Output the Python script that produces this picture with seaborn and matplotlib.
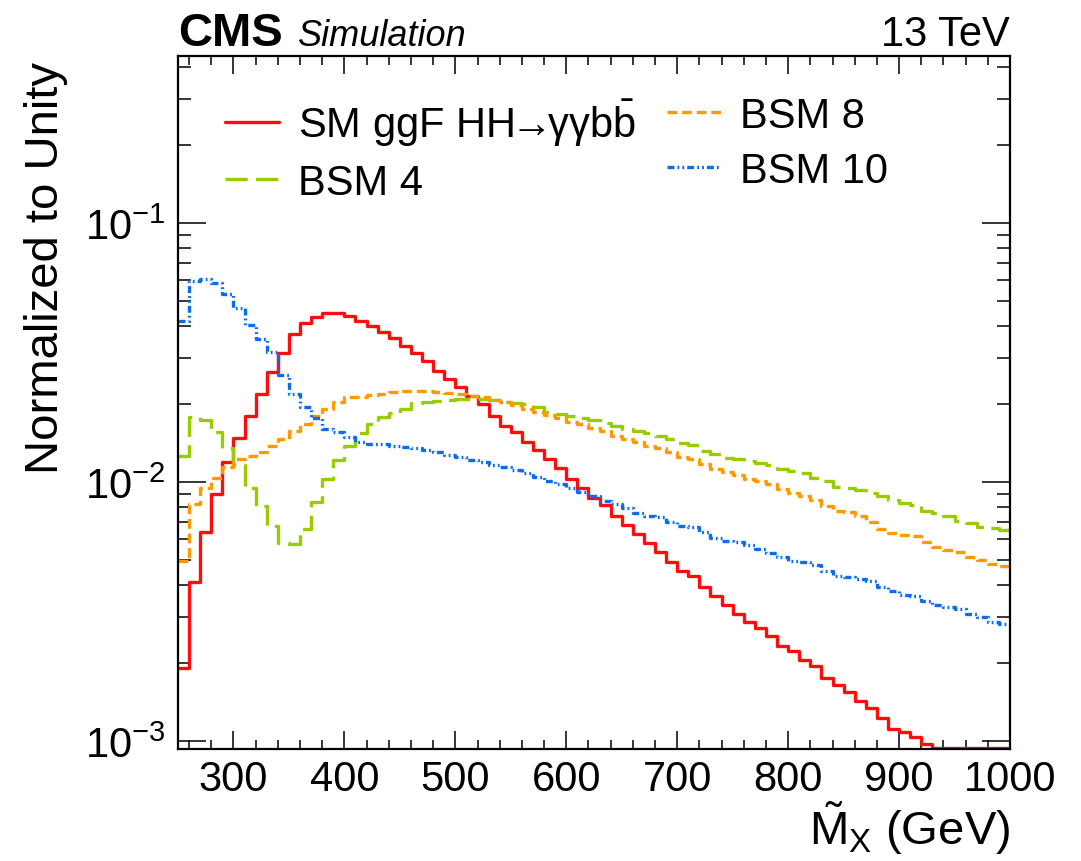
import numpy as np
import pandas as pd
import matplotlib
matplotlib.use("Agg")
import matplotlib.pyplot as plt
import seaborn as sns
from matplotlib.ticker import MultipleLocator, LogLocator, NullFormatter, LogFormatterSciNotation

# ---------------- data (normalized bin contents, 10 GeV bins 250-1000) ----------------
bin_low, bin_high, bin_width = 250, 1000, 10

sm_ggf = [1.91e-3, 4.12e-3, 6.42e-3, 8.99e-3, 1.19e-2, 1.48e-2, 1.80e-2, 2.19e-2, 2.65e-2, 3.15e-2,
          3.72e-2, 4.11e-2, 4.35e-2, 4.48e-2, 4.48e-2, 4.36e-2, 4.20e-2, 4.02e-2, 3.80e-2, 3.60e-2,
          3.36e-2, 3.15e-2, 2.92e-2, 2.69e-2, 2.51e-2, 2.33e-2, 2.15e-2, 2.00e-2, 1.80e-2, 1.65e-2,
          1.56e-2, 1.43e-2, 1.33e-2, 1.23e-2, 1.13e-2, 1.03e-2, 9.5e-3, 8.7e-3, 8.15e-3, 7.41e-3,
          6.82e-3, 6.30e-3, 5.81e-3, 5.35e-3, 4.92e-3, 4.55e-3, 4.32e-3, 3.94e-3, 3.62e-3, 3.35e-3,
          3.09e-3, 2.87e-3, 2.72e-3, 2.55e-3, 2.33e-3, 2.22e-3, 2.06e-3, 1.94e-3, 1.75e-3, 1.64e-3,
          1.54e-3, 1.43e-3, 1.34e-3, 1.23e-3, 1.11e-3, 1.08e-3, 1.04e-3, 9.75e-4, 8.9e-4, 8.4e-4,
          7.9e-4, 7.4e-4, 7.0e-4, 6.6e-4, 6.2e-4]

bsm4 = [1.26e-2, 1.78e-2, 1.74e-2, 1.56e-2, 1.35e-2, 1.16e-2, 9.45e-3, 8.1e-3, 6.78e-3, 5.8e-3,
        5.78e-3, 6.59e-3, 8.35e-3, 1.03e-2, 1.22e-2, 1.38e-2, 1.55e-2, 1.68e-2, 1.79e-2, 1.85e-2,
        1.92e-2, 2.01e-2, 2.04e-2, 2.06e-2, 2.08e-2, 2.10e-2, 2.10e-2, 2.09e-2, 2.07e-2, 2.04e-2,
        2.01e-2, 2.00e-2, 1.94e-2, 1.86e-2, 1.83e-2, 1.80e-2, 1.77e-2, 1.73e-2, 1.69e-2, 1.65e-2,
        1.60e-2, 1.57e-2, 1.54e-2, 1.51e-2, 1.46e-2, 1.42e-2, 1.39e-2, 1.32e-2, 1.28e-2, 1.24e-2,
        1.23e-2, 1.20e-2, 1.18e-2, 1.16e-2, 1.12e-2, 1.10e-2, 1.08e-2, 1.04e-2, 1.01e-2, 9.6e-3,
        9.5e-3, 9.3e-3, 9.06e-3, 8.8e-3, 8.5e-3, 8.3e-3, 8.15e-3, 7.75e-3, 7.6e-3, 7.4e-3,
        7.1e-3, 6.95e-3, 6.73e-3, 6.63e-3, 6.53e-3]

bsm8 = [4.97e-3, 8.2e-3, 9.5e-3, 1.04e-2, 1.14e-2, 1.23e-2, 1.26e-2, 1.31e-2, 1.38e-2, 1.47e-2,
        1.58e-2, 1.67e-2, 1.80e-2, 1.92e-2, 2.03e-2, 2.12e-2, 2.12e-2, 2.17e-2, 2.18e-2, 2.22e-2,
        2.25e-2, 2.25e-2, 2.24e-2, 2.22e-2, 2.20e-2, 2.18e-2, 2.15e-2, 2.12e-2, 2.08e-2, 2.03e-2,
        1.98e-2, 1.92e-2, 1.87e-2, 1.82e-2, 1.76e-2, 1.71e-2, 1.68e-2, 1.61e-2, 1.58e-2, 1.51e-2,
        1.47e-2, 1.43e-2, 1.38e-2, 1.35e-2, 1.30e-2, 1.25e-2, 1.23e-2, 1.17e-2, 1.12e-2, 1.09e-2,
        1.06e-2, 1.03e-2, 1.01e-2, 9.8e-3, 9.4e-3, 9.1e-3, 8.85e-3, 8.5e-3, 8.06e-3, 7.75e-3,
        7.63e-3, 7.41e-3, 6.99e-3, 6.58e-3, 6.35e-3, 6.26e-3, 6.17e-3, 5.85e-3, 5.6e-3, 5.48e-3,
        5.35e-3, 5.12e-3, 5.01e-3, 4.82e-3, 4.75e-3]

bsm10 = [4.2e-2, 5.98e-2, 6.08e-2, 5.85e-2, 5.32e-2, 4.68e-2, 4.03e-2, 3.56e-2, 3.17e-2, 2.59e-2,
         2.19e-2, 1.94e-2, 1.76e-2, 1.60e-2, 1.56e-2, 1.49e-2, 1.43e-2, 1.40e-2, 1.40e-2, 1.38e-2,
         1.36e-2, 1.35e-2, 1.33e-2, 1.30e-2, 1.27e-2, 1.25e-2, 1.22e-2, 1.19e-2, 1.16e-2, 1.14e-2,
         1.11e-2, 1.08e-2, 1.05e-2, 1.01e-2, 9.8e-3, 9.5e-3, 9.18e-3, 8.8e-3, 8.48e-3, 8.22e-3,
         7.91e-3, 7.59e-3, 7.41e-3, 7.3e-3, 7.03e-3, 6.78e-3, 6.68e-3, 6.39e-3, 6.06e-3, 5.94e-3,
         5.85e-3, 5.71e-3, 5.51e-3, 5.32e-3, 5.12e-3, 4.97e-3, 4.9e-3, 4.8e-3, 4.55e-3, 4.35e-3,
         4.28e-3, 4.22e-3, 4.13e-3, 3.92e-3, 3.8e-3, 3.67e-3, 3.64e-3, 3.48e-3, 3.35e-3, 3.3e-3,
         3.24e-3, 3.09e-3, 3.0e-3, 2.89e-3, 2.83e-3]

labels = ["SM ggF HH$\\!\\!\\rightarrow\\!\\!$\u03b3\u03b3b$\\bar{\\mathrm{b}}$",
          "BSM 4", "BSM 8", "BSM 10"]
x_label = r"$\tilde{\mathrm{M}}_{\mathrm{X}}$ (GeV)"
y_label = "Normalized to Unity"

# ---------------- style ----------------
sns.set_theme(style="white")
plt.rcParams["font.family"] = ["Liberation Sans", "DejaVu Sans"]
plt.rcParams["mathtext.fontset"] = "custom"
plt.rcParams["mathtext.rm"] = "Liberation Sans"
plt.rcParams["mathtext.it"] = "Liberation Sans:italic"
plt.rcParams["mathtext.bf"] = "Liberation Sans:bold"
plt.rcParams["mathtext.fallback"] = "stixsans"
plt.rcParams["lines.scale_dashes"] = False
for key in ["text.color", "axes.labelcolor", "xtick.color", "ytick.color", "axes.edgecolor"]:
    plt.rcParams[key] = "black"

W, H = 1081, 862
fig = plt.figure(figsize=(W / 100, H / 100), dpi=100)
ax_l, ax_r, ax_t, ax_b = 178, 1010, 57, 750
ax = fig.add_axes([ax_l / W, 1 - ax_b / H, (ax_r - ax_l) / W, (ax_b - ax_t) / H])

ymin, ymax = 10 ** -3.031, 10 ** -0.355
floor = ymin * 1.012
centers = np.arange(bin_low, bin_high, bin_width) + bin_width / 2

series = [sm_ggf, bsm4, bsm8, bsm10]
colors = ["#ff0d0d", "#99cc00", "#ff9900", "#0a6cf0"]
dash_styles = [None, (16, 6), (7, 3.5), (5, 2.2, 1.3, 2.2, 1.3, 2.2)]
lw = 2.4

for vals, lab, col, dsh in zip(series, labels, colors, dash_styles):
    # like ROOT, contents below the axis floor are drawn along the floor
    df = pd.DataFrame({"mx": centers, "w": np.maximum(np.asarray(vals), floor)})
    kw = dict(color=col, linewidth=lw, label=lab)
    if dsh is not None:
        kw["dashes"] = dsh
    sns.histplot(data=df, x="mx", weights="w", binwidth=bin_width,
                 binrange=(bin_low, bin_high), element="step", fill=False, ax=ax, **kw)

# drop the outline's closing segments to zero (ROOT draws only the bin tops)
for ln in ax.lines:
    xd = np.asarray(ln.get_xdata(), float)
    yd = np.asarray(ln.get_ydata(), float)
    keep = yd > 0
    xd, yd = xd[keep], yd[keep]
    if xd[-1] < bin_high:
        xd = np.append(xd, bin_high)
        yd = np.append(yd, yd[-1])
    ln.set_data(xd, yd)

ax.set_yscale("log")
ax.set_xlim(bin_low, bin_high)
ax.set_ylim(ymin, ymax)

# ticks ROOT-style
ax.xaxis.set_major_locator(MultipleLocator(100))
ax.xaxis.set_minor_locator(MultipleLocator(20))
ax.yaxis.set_major_locator(LogLocator(base=10, numticks=10))
ax.yaxis.set_minor_locator(LogLocator(base=10, subs=np.arange(2, 10), numticks=20))
ax.yaxis.set_minor_formatter(NullFormatter())
ax.yaxis.set_major_formatter(LogFormatterSciNotation())
ax.tick_params(axis="both", which="both", direction="in", top=True, right=True,
               bottom=True, left=True, color="black", width=1.1)
ax.tick_params(axis="x", which="major", length=13, pad=7, labelsize=30)
ax.tick_params(axis="x", which="minor", length=6.5)
ax.tick_params(axis="y", which="major", length=20, pad=9, labelsize=30)
ax.tick_params(axis="y", which="minor", length=9.5)
for sp in ax.spines.values():
    sp.set_linewidth(1.6)
    sp.set_color("black")

ax.set_xlabel(x_label, fontsize=34, loc="right")
ax.xaxis.set_label_coords(1.0, -0.071)
ax.set_ylabel(y_label, fontsize=34, loc="top")
ax.yaxis.set_label_coords(-0.132, 0.993)

# two legend columns placed independently
handles, labs = ax.get_legend_handles_labels()
leg_kw = dict(frameon=False, fontsize=30, loc="upper left", bbox_transform=fig.transFigure,
              handlelength=1.3, handletextpad=0.45, labelspacing=0.35,
              borderpad=0, borderaxespad=0)
leg1 = ax.legend(handles[:2], labs[:2], bbox_to_anchor=(225 / W, 1 - 97 / H), **leg_kw)
ax.add_artist(leg1)
ax.legend(handles[2:], labs[2:], bbox_to_anchor=(667 / W, 1 - 97 / H), **leg_kw)

fig.text(ax_l / W, 1 - 46 / H, "CMS", fontsize=34, fontweight="bold", va="baseline", ha="left")
fig.text(298 / W, 1 - 46 / H, "Simulation", fontsize=26, fontstyle="italic", va="baseline", ha="left")
fig.text(ax_r / W, 1 - 46 / H, "13 TeV", fontsize=30, va="baseline", ha="right")

fig.savefig("out.png", dpi=100)
